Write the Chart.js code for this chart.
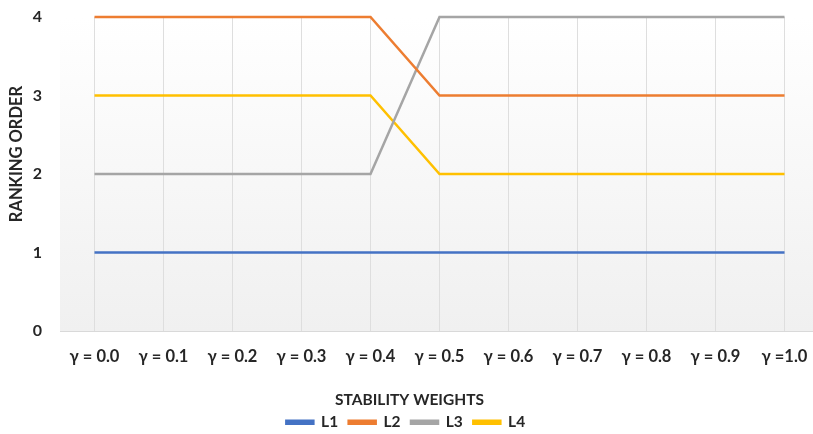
<!DOCTYPE html>
<html>
<head>
<meta charset="utf-8">
<script src="https://cdn.jsdelivr.net/npm/chart.js@4.4.1/dist/chart.umd.min.js"></script>
<style>
  html, body { margin: 0; padding: 0; background: #ffffff; overflow: hidden; }
  #wrap { width: 819px; height: 434px; }
</style>
</head>
<body>
<div id="wrap"><canvas id="c" width="819" height="434"></canvas></div>
<script>
// Stability weight settings along the x axis
const weights = ["γ = 0.0", "γ = 0.1", "γ = 0.2", "γ = 0.3", "γ = 0.4", "γ = 0.5",
                 "γ = 0.6", "γ = 0.7", "γ = 0.8", "γ = 0.9", "γ =1.0"];

// Ranking order of each alternative at each weight
const L1 = [1, 1, 1, 1, 1, 1, 1, 1, 1, 1, 1];
const L2 = [4, 4, 4, 4, 4, 3, 3, 3, 3, 3, 3];
const L3 = [2, 2, 2, 2, 2, 4, 4, 4, 4, 4, 4];
const L4 = [3, 3, 3, 3, 3, 2, 2, 2, 2, 2, 2];

const yTicks = [0, 1, 2, 3, 4];

const FONT = "Lato, 'Open Sans', sans-serif";
const TEXT = "#262626";

// Soft vertical gradient behind the plotting area
const plotBackground = {
  id: "plotBackground",
  beforeDraw(chart) {
    const { ctx, chartArea: a } = chart;
    const g = ctx.createLinearGradient(0, a.top, 0, a.bottom);
    g.addColorStop(0, "#ffffff");
    g.addColorStop(1, "#f0f0f0");
    ctx.save();
    ctx.fillStyle = g;
    ctx.fillRect(a.left, a.top, a.right - a.left, a.bottom - a.top);
    ctx.restore();
  }
};

// Rotated value-axis caption, placed a little above the plot's middle
const yCaption = {
  id: "yCaption",
  afterDraw(chart) {
    const { ctx, chartArea: a } = chart;
    ctx.save();
    ctx.translate(17, (a.top + a.bottom) / 2 - 20);
    ctx.rotate(-Math.PI / 2);
    ctx.fillStyle = TEXT;
    ctx.font = "bold 16.5px " + FONT;
    ctx.textAlign = "center";
    ctx.textBaseline = "middle";
    ctx.fillText("RANKING ORDER", 0, 0);
    ctx.restore();
  }
};

const mk = (label, data, color) => ({
  label, data,
  borderColor: color,
  backgroundColor: color,
  borderWidth: 2.5,
  pointRadius: 0,
  tension: 0,
  fill: false,
  clip: false
});

new Chart(document.getElementById("c"), {
  type: "line",
  data: {
    labels: weights,
    datasets: [
      mk("L1", L1, "#4472C4"),
      mk("L2", L2, "#ED7D31"),
      mk("L3", L3, "#A5A5A5"),
      mk("L4", L4, "#FFC000")
    ]
  },
  options: {
    responsive: false,
    animation: false,
    devicePixelRatio: 1,
    layout: { padding: { top: 17, left: 0, right: 0, bottom: -6 } },
    plugins: {
      legend: {
        position: "bottom",
        title: {
          display: true,
          text: "STABILITY WEIGHTS",
          color: TEXT,
          padding: { top: 9, bottom: 1 },
          font: { family: FONT, size: 15.5, weight: "bold" }
        },
        labels: {
          boxWidth: 27,
          boxHeight: 3,
          padding: 3,
          color: TEXT,
          font: { family: FONT, size: 15.5, weight: "bold" },
          // wider gap between entries without changing the row's height
          generateLabels(chart) {
            const items = Chart.defaults.plugins.legend.labels.generateLabels(chart);
            return items.map(it => ({ ...it, text: it.text + "  " }));
          }
        }
      },
      tooltip: { enabled: false }
    },
    scales: {
      x: {
        offset: true,
        grid: { offset: false, color: "#dedede", drawTicks: false },
        border: { color: "#d9d9d9" },
        afterFit(scale) { scale.paddingLeft = 0; scale.paddingRight = 0; },
        ticks: {
          padding: 16,
          maxRotation: 0,
          autoSkip: false,
          color: TEXT,
          font: { family: FONT, size: 16.5, weight: "bold" }
        }
      },
      y: {
        min: 0,
        max: 4,
        grid: { display: false, drawTicks: false },
        border: { display: false },
        afterBuildTicks(scale) { scale.ticks = yTicks.map(v => ({ value: v })); },
        afterFit(scale) {
          scale.width = 60;
          scale.paddingTop = 0;
          scale.paddingBottom = 0;
        },
        ticks: {
          padding: 18,
          color: TEXT,
          font: { family: FONT, size: 16, weight: "bold" }
        }
      }
    }
  },
  plugins: [plotBackground, yCaption]
});
</script>
</body>
</html>
